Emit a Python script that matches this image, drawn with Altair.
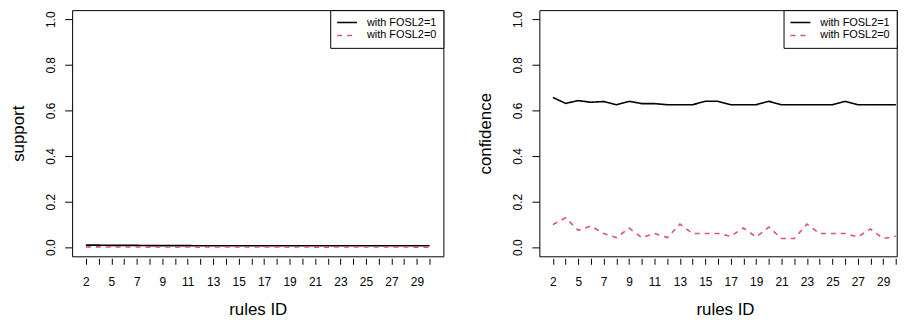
import json
import altair as alt
import pandas as pd

# ---- data ----
rule_ids = [2, 3] + list(range(5, 31))
series_names = ["with FOSL2=1", "with FOSL2=0"]

support_fosl2_1 = [0.009, 0.009, 0.008, 0.008, 0.008, 0.007, 0.007, 0.007, 0.007, 0.006,
                   0.006, 0.006, 0.006, 0.006, 0.006, 0.006, 0.006, 0.006, 0.006, 0.006,
                   0.006, 0.006, 0.006, 0.006, 0.006, 0.006, 0.006, 0.006]
support_fosl2_0 = [0.0012, 0.0015, 0.0008, 0.0010, 0.0007, 0.0005, 0.0010, 0.0005, 0.0007, 0.0005,
                   0.0012, 0.0007, 0.0007, 0.0007, 0.0005, 0.0009, 0.0005, 0.0009, 0.0004, 0.0004,
                   0.0010, 0.0006, 0.0006, 0.0006, 0.0005, 0.0008, 0.0004, 0.0005]

conf_fosl2_1 = [0.657, 0.631, 0.643, 0.636, 0.639, 0.625, 0.640, 0.630, 0.630, 0.625,
                0.625, 0.625, 0.640, 0.640, 0.625, 0.625, 0.625, 0.640, 0.625, 0.625,
                0.625, 0.625, 0.625, 0.640, 0.625, 0.625, 0.625, 0.625]
conf_fosl2_0 = [0.099, 0.129, 0.074, 0.093, 0.060, 0.042, 0.084, 0.042, 0.060, 0.042,
                0.101, 0.060, 0.060, 0.060, 0.048, 0.084, 0.045, 0.088, 0.038, 0.038,
                0.101, 0.060, 0.060, 0.060, 0.045, 0.080, 0.038, 0.048]

y_ticks = [0.0, 0.2, 0.4, 0.6, 0.8, 1.0]
# R drops every other tick label when they would overlap
x_tick_labels = [str(r) if i % 2 == 0 else "" for i, r in enumerate(rule_ids)]

FONT = "Liberation Sans"
H = 248
positions = list(range(len(rule_ids)))


def panel(y_title, v1, v0, width, x_domain):
    df = pd.DataFrame({
        "pos": positions + positions,
        "rule": rule_ids + rule_ids,
        "value": v1 + v0,
        "series": [series_names[0]] * len(rule_ids) + [series_names[1]] * len(rule_ids),
    })
    label_expr = json.dumps(x_tick_labels).replace('"', "'") + "[datum.value]"
    x = alt.X(
        "pos:Q",
        scale=alt.Scale(domain=x_domain, nice=False, zero=False),
        axis=alt.Axis(
            title="rules ID", values=positions, labelExpr=label_expr, labelOverlap=False,
            labelFlush=False, labelAngle=0, grid=False,
            domain=False, offset=2, tickSize=6, labelPadding=21, labelBaseline="alphabetic",
            titleX=187, titleY=57, titleBaseline="alphabetic", titleAlign="center",
        ),
    )
    y = alt.Y(
        "value:Q",
        scale=alt.Scale(domain=[-0.04, 1.04], nice=False, zero=False),
        axis=alt.Axis(
            title=y_title, values=y_ticks, format=".1f", grid=False, domain=False,
            tickSize=7.5, labelAngle=270, labelAlign="center", labelBaseline="alphabetic",
            labelPadding=10.5, labelFlush=False, titleAngle=270, titleBaseline="alphabetic",
            titleAlign="center", titleX=-49, titleY=H / 2,
        ),
    )
    color = alt.Color(
        "series:N",
        scale=alt.Scale(domain=series_names, range=["#000000", "#DF536B"]),
        legend=alt.Legend(title=None, orient="top-right"),
    )
    dash = alt.StrokeDash(
        "series:N",
        scale=alt.Scale(domain=series_names, range=[[1, 0], [5, 5]]),
        legend=alt.Legend(title=None, orient="top-right"),
    )
    return (
        alt.Chart(df)
        .mark_line(strokeWidth=1.6, clip=True)
        .encode(x=x, y=y, color=color, strokeDash=dash)
        .properties(width=width, height=H)
    )


n_last = len(rule_ids) - 1
left = panel("support", support_fosl2_1, support_fosl2_0, 374, [-1.08, n_last + 1.08])
# right panel is cut by the page edge in the reference: same spacing, frame ends near the edge
right = panel("confidence", conf_fosl2_1, conf_fosl2_0, 360, [-1.0625, 27.0625])

chart = (
    alt.hconcat(left, right, spacing=96.7, bounds="flush")
    .resolve_scale(color="independent", strokeDash="independent", x="independent")
    .resolve_legend(color="independent", strokeDash="independent")
    .properties(padding={"left": 0.6, "top": 0, "right": 0, "bottom": 0})
    .configure_view(stroke="black", strokeWidth=1)
    .configure_axis(
        labelFont=FONT, labelFontSize=12, labelColor="black",
        titleFont=FONT, titleFontSize=17, titleColor="black", titleFontWeight="normal",
        tickColor="black", tickWidth=1, grid=False,
    )
    .configure_legend(
        offset=0, padding=6, strokeColor="black", fillColor="white", cornerRadius=0,
        symbolType="stroke", symbolSize=400, symbolStrokeWidth=1.6, clipHeight=13,
        rowPadding=0, labelOffset=9, labelFont=FONT, labelFontSize=11, labelColor="black",
        labelLimit=0,
    )
)

chart.save("out.html", embed_options={"renderer": "svg", "actions": False})
